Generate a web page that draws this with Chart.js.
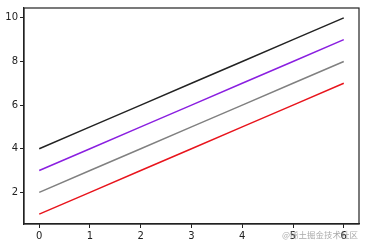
<!DOCTYPE html>
<html><head><meta charset="utf-8">
<script src="https://cdn.jsdelivr.net/npm/chart.js@4"></script>
<style>html,body{margin:0;padding:0;background:#fff}#wrap{width:366px;height:246px}</style>
</head><body><div id="wrap"><canvas id="c" width="366" height="246"></canvas></div>
<script>
const xValues = [0, 1, 2, 3, 4, 5, 6];
const seriesBlack = [4, 5, 6, 7, 8, 9, 10];
const seriesPurple = [3, 4, 5, 6, 7, 8, 9];
const seriesGray = [2, 3, 4, 5, 6, 7, 8];
const seriesRed = [1, 2, 3, 4, 5, 6, 7];
const xTicks = [0, 1, 2, 3, 4, 5, 6];
const yTicks = [2, 4, 6, 8, 10];
const watermark = "@稀土掘金技术社区";

function pts(ys){ return xValues.map((x,i)=>({x:x,y:ys[i]})); }
const mk = (data,color)=>({data:pts(data),borderColor:color,backgroundColor:color,borderWidth:1.5,pointRadius:0,fill:false,tension:0});

const frame = {
  id:'frame',
  afterDraw(chart){
    const {ctx, chartArea:a} = chart;
    ctx.save();
    ctx.strokeStyle='#222';ctx.lineWidth=1.2;
    ctx.strokeRect(a.left,a.top,a.right-a.left,a.bottom-a.top);
    ctx.font='8.5px "Noto Sans CJK SC"';
    ctx.fillStyle='rgba(140,140,140,0.75)';
    ctx.textAlign='right';ctx.textBaseline='middle';
    ctx.fillText(watermark,358,235);
    ctx.restore();
  }
};

new Chart(document.getElementById('c'),{
  type:'line',
  data:{datasets:[mk(seriesBlack,'#222222'),mk(seriesPurple,'#8a1fe0'),mk(seriesGray,'#808080'),mk(seriesRed,'#e8141c')]},
  options:{
    responsive:false,animation:false,
    layout:{padding:{top:6,right:7,left:0,bottom:0}},
    plugins:{legend:{display:false},tooltip:{enabled:false}},
    scales:{
      x:{type:'linear',min:-0.3,max:6.3,
        afterBuildTicks(s){s.ticks=xTicks.map(v=>({value:v}));},
        afterFit(s){s.height=22;},
        grid:{drawOnChartArea:false,drawTicks:true,tickLength:4,color:'#222'},
        border:{display:true,color:'#222',width:1.2},
        ticks:{color:'#222',font:{family:'DejaVu Sans',size:10},padding:2,maxRotation:0}
      },
      y:{type:'linear',min:0.55,max:10.45,
        afterBuildTicks(s){s.ticks=yTicks.map(v=>({value:v}));},
        afterFit(s){s.width=24;},
        grid:{drawOnChartArea:false,drawTicks:true,tickLength:4,color:'#222'},
        border:{display:true,color:'#222',width:1.2},
        ticks:{color:'#222',font:{family:'DejaVu Sans',size:10},padding:2}
      }
    }
  },
  plugins:[frame]
});
</script></body></html>
